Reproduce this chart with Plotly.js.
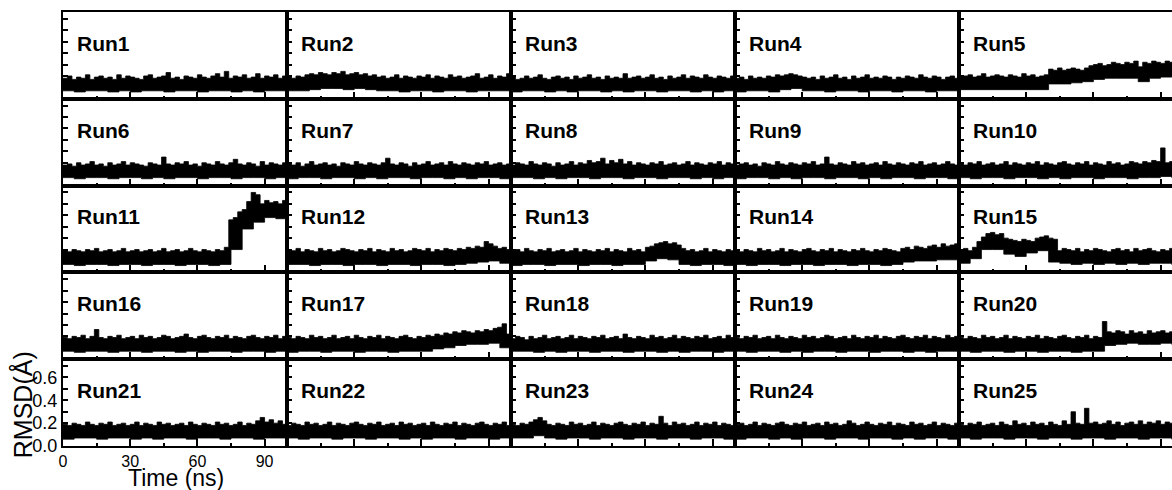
<!DOCTYPE html>
<html>
<head>
<meta charset="utf-8">
<script src="https://cdn.plot.ly/plotly-3.0.1.min.js"></script>
<style>
html,body{margin:0;padding:0;overflow:hidden;background:#fff;}
#chart{width:1200px;height:490px;}
</style>
</head>
<body>
<div id="chart"></div>
<script>
// ---- data (RMSD in Å, time in ns) ----
const timeHi = [0,2,4,6,8,10,12,14,16,18,20,22,24,26,28,30,32,34,36,38,40,42,44,46,48,50,52,54,56,58,60,62,64,66,68,70,72,74,76,78,80,82,84,86,88,90,92,94,96,98];
const timeLo = [0,5,10,15,20,25,30,35,40,45,50,55,60,65,70,75,80,85,90,95];
const timeEnd = 100;
const runNames = ["Run1","Run2","Run3","Run4","Run5","Run6","Run7","Run8","Run9","Run10","Run11","Run12","Run13","Run14","Run15","Run16","Run17","Run18","Run19","Run20","Run21","Run22","Run23","Run24","Run25"];
const xTickVals = [0,30,60,90];
const xMinorVals = [15,45,75];
const yTickVals = [0,0.2,0.4,0.6];
const yTickText = ["0.0","0.2","0.4","0.6"];
const yMinorVals = [0.1,0.3,0.5,0.7];

// upper envelope of each RMSD trace
const run1Hi = [.18,.20,.17,.19,.18,.21,.17,.19,.20,.18, .19,.17,.21,.18,.20,.19,.18,.17,.20,.21, .18,.19,.20,.23,.18,.19,.17,.20,.19,.18, .21,.19,.18,.20,.22,.19,.24,.18,.20,.19, .21,.18,.19,.22,.18,.20,.19,.21,.18,.20];
const run2Hi = [.19,.18,.20,.19,.21,.22,.21,.23,.22,.21, .23,.22,.24,.21,.22,.23,.21,.22,.20,.21, .19,.20,.18,.19,.21,.18,.20,.19,.18,.20, .19,.21,.18,.20,.19,.18,.21,.19,.20,.18, .19,.20,.22,.18,.19,.21,.18,.20,.19,.22];
const run3Hi = [.19,.17,.18,.20,.18,.19,.21,.18,.17,.19, .20,.18,.19,.17,.20,.18,.19,.21,.18,.19, .17,.20,.18,.19,.18,.22,.18,.19,.20,.18, .19,.21,.18,.19,.17,.20,.18,.19,.21,.18, .20,.19,.18,.21,.19,.18,.20,.19,.18,.20];
const run4Hi = [.18,.19,.17,.20,.18,.19,.18,.20,.19,.21, .20,.21,.22,.21,.20,.19,.18,.19,.17,.20, .18,.19,.21,.18,.19,.17,.20,.18,.19,.21, .18,.19,.18,.20,.19,.17,.19,.18,.20,.19, .18,.21,.19,.18,.20,.19,.17,.19,.20,.18];
const run5Hi = [.19,.20,.21,.19,.20,.22,.19,.20,.21,.20, .19,.21,.20,.19,.22,.20,.21,.19,.20,.21, .26,.25,.27,.25,.26,.27,.26,.25,.27,.29, .30,.31,.29,.30,.32,.31,.30,.32,.31,.33, .28,.32,.31,.33,.32,.31,.33,.32,.30,.33];
const run6Hi = [.18,.19,.17,.20,.18,.19,.21,.18,.19,.17, .20,.18,.19,.21,.18,.20,.19,.18,.17,.20, .19,.18,.25,.19,.18,.20,.19,.21,.18,.19, .17,.20,.19,.18,.21,.19,.18,.20,.23,.19, .18,.20,.19,.17,.21,.18,.20,.19,.18,.20];
const run7Hi = [.19,.18,.20,.17,.19,.21,.18,.19,.20,.18, .19,.17,.20,.19,.18,.21,.19,.18,.20,.19, .18,.20,.24,.19,.18,.20,.19,.17,.20,.18, .19,.21,.18,.19,.20,.18,.21,.19,.18,.20, .19,.18,.20,.19,.21,.18,.19,.20,.18,.19];
const run8Hi = [.18,.20,.19,.18,.21,.19,.18,.20,.19,.17, .20,.18,.19,.21,.18,.20,.19,.22,.20,.21, .24,.19,.22,.20,.23,.19,.21,.18,.20,.19, .18,.20,.19,.21,.18,.19,.20,.18,.19,.21, .18,.20,.19,.18,.20,.19,.21,.18,.20,.19];
const run9Hi = [.18,.19,.20,.18,.19,.17,.20,.19,.18,.21, .19,.18,.20,.19,.18,.20,.19,.21,.18,.19, .25,.19,.18,.20,.19,.18,.21,.19,.20,.18, .19,.20,.18,.21,.19,.18,.20,.19,.18,.20, .19,.21,.18,.19,.20,.18,.19,.21,.19,.18];
const run10Hi = [.19,.18,.20,.19,.21,.18,.19,.20,.18,.19, .21,.18,.20,.19,.18,.20,.19,.21,.18,.20, .19,.18,.20,.21,.19,.18,.20,.19,.21,.18, .20,.19,.18,.21,.19,.20,.18,.19,.21,.20, .19,.21,.20,.22,.21,.33,.20,.21,.22,.20];
const run11Hi = [.19,.18,.20,.19,.18,.20,.19,.21,.18,.19, .20,.18,.19,.21,.18,.19,.20,.18,.19,.20, .18,.19,.21,.18,.19,.20,.18,.19,.21,.19, .18,.20,.19,.18,.20,.19,.22,.46,.48,.53, .55,.62,.70,.68,.60,.63,.61,.62,.60,.63];
const run12Hi = [.20,.19,.21,.18,.20,.19,.18,.21,.19,.20, .18,.19,.21,.20,.19,.18,.20,.19,.21,.18, .20,.19,.18,.21,.19,.20,.18,.19,.21,.20, .19,.21,.18,.20,.19,.21,.20,.19,.21,.20, .22,.21,.23,.22,.27,.25,.23,.21,.22,.20];
const run13Hi = [.19,.20,.18,.21,.19,.18,.20,.19,.21,.18, .19,.20,.18,.19,.21,.18,.20,.19,.18,.20, .19,.21,.18,.20,.19,.18,.21,.19,.20,.18, .22,.23,.25,.26,.27,.25,.26,.24,.21,.19, .20,.18,.19,.21,.18,.20,.19,.18,.20,.19];
const run14Hi = [.19,.18,.20,.19,.18,.21,.19,.20,.18,.19, .21,.18,.20,.19,.18,.20,.21,.19,.18,.20, .19,.21,.18,.20,.19,.18,.20,.19,.21,.19, .18,.20,.19,.21,.20,.19,.18,.21,.22,.20, .23,.22,.21,.23,.24,.22,.25,.23,.24,.25];
const run15Hi = [.20,.21,.19,.22,.27,.31,.34,.35,.33,.34, .30,.29,.28,.27,.29,.28,.27,.30,.31,.32, .30,.29,.19,.21,.20,.19,.21,.18,.20,.19, .21,.20,.19,.18,.20,.21,.19,.20,.18,.21, .19,.20,.21,.19,.18,.20,.19,.21,.20,.19];
const run16Hi = [.19,.18,.20,.19,.21,.18,.20,.26,.19,.18, .20,.19,.21,.18,.19,.20,.18,.21,.19,.20, .18,.19,.21,.20,.18,.19,.20,.22,.19,.18, .20,.21,.19,.18,.20,.19,.21,.18,.20,.19, .18,.20,.21,.19,.18,.20,.19,.21,.18,.20];
const run17Hi = [.19,.18,.20,.19,.18,.21,.19,.20,.18,.19, .21,.18,.19,.20,.18,.21,.19,.18,.20,.19, .21,.18,.20,.19,.18,.20,.21,.19,.18,.20, .19,.21,.20,.22,.21,.23,.22,.24,.23,.25, .24,.23,.25,.24,.26,.25,.27,.28,.31,.22];
const run18Hi = [.18,.20,.19,.17,.20,.18,.19,.21,.18,.19, .20,.18,.19,.21,.18,.20,.19,.18,.20,.19, .21,.18,.19,.20,.18,.22,.19,.18,.20,.19, .18,.21,.19,.20,.18,.19,.21,.18,.20,.19, .18,.20,.19,.21,.18,.19,.20,.18,.21,.19];
const run19Hi = [.19,.18,.20,.19,.21,.18,.19,.20,.18,.21, .19,.18,.20,.19,.18,.21,.19,.20,.18,.19, .21,.20,.18,.19,.20,.18,.21,.19,.18,.20, .19,.21,.18,.20,.19,.18,.20,.21,.19,.18, .20,.19,.21,.18,.20,.19,.18,.21,.19,.20];
const run20Hi = [.19,.18,.20,.19,.18,.21,.19,.20,.18,.19, .21,.18,.20,.19,.18,.20,.19,.21,.18,.20, .19,.18,.20,.21,.19,.18,.20,.19,.21,.18, .20,.19,.33,.24,.23,.25,.24,.22,.25,.23, .24,.22,.25,.23,.24,.25,.23,.24,.22,.24];
const run21Hi = [.19,.18,.20,.19,.18,.21,.19,.18,.20,.19, .21,.18,.19,.20,.18,.19,.21,.18,.20,.19, .18,.21,.19,.20,.18,.19,.20,.18,.21,.19, .18,.20,.19,.18,.21,.19,.20,.18,.19,.21, .18,.20,.19,.22,.25,.21,.23,.20,.22,.19];
const run22Hi = [.18,.20,.19,.18,.21,.19,.20,.18,.19,.21, .18,.20,.19,.18,.20,.21,.19,.18,.20,.19, .21,.18,.19,.20,.18,.21,.19,.20,.18,.19, .20,.18,.21,.19,.18,.20,.19,.21,.18,.20, .19,.18,.20,.21,.19,.18,.20,.19,.21,.18];
const run23Hi = [.19,.18,.20,.19,.21,.23,.25,.22,.19,.18, .20,.19,.18,.21,.19,.20,.18,.19,.21,.18, .20,.19,.18,.20,.21,.19,.18,.20,.19,.21, .18,.20,.19,.26,.20,.18,.21,.19,.20,.18, .19,.21,.18,.20,.19,.21,.18,.20,.19,.18];
const run24Hi = [.19,.20,.18,.19,.21,.18,.20,.19,.18,.20, .21,.19,.18,.20,.19,.21,.18,.19,.20,.18, .21,.19,.20,.18,.19,.22,.20,.18,.19,.21, .19,.18,.20,.19,.21,.18,.20,.19,.18,.21, .19,.20,.18,.19,.21,.18,.20,.19,.18,.20];
const run25Hi = [.19,.18,.20,.19,.21,.18,.19,.20,.18,.21, .19,.18,.22,.19,.20,.18,.21,.19,.20,.18, .21,.19,.18,.22,.19,.30,.20,.19,.33,.20, .21,.19,.20,.22,.19,.21,.18,.20,.21,.19, .22,.19,.21,.20,.22,.19,.21,.20,.19,.21];

// lower envelope of each RMSD trace
const run1Lo = [.07,.06,.07,.07,.06,.07,.06,.07,.07,.06,.07,.07,.06,.07,.07,.06,.07,.06,.07,.07];
const run2Lo = [.07,.07,.08,.09,.09,.08,.09,.08,.07,.07,.06,.07,.07,.06,.07,.07,.06,.07,.07,.07];
const run3Lo = [.06,.07,.07,.06,.07,.06,.07,.07,.06,.07,.06,.07,.07,.06,.07,.07,.06,.07,.06,.07];
const run4Lo = [.06,.07,.07,.06,.08,.09,.07,.07,.06,.07,.07,.06,.07,.07,.06,.07,.07,.06,.07,.07];
const run5Lo = [.08,.08,.08,.08,.08,.08,.08,.08,.13,.13,.14,.15,.17,.18,.18,.18,.15,.18,.19,.20];
const run6Lo = [.07,.06,.07,.07,.06,.07,.07,.06,.07,.06,.07,.07,.06,.07,.07,.06,.07,.07,.06,.07];
const run7Lo = [.06,.07,.07,.06,.07,.07,.06,.07,.06,.07,.07,.06,.07,.07,.06,.07,.06,.07,.07,.06];
const run8Lo = [.07,.07,.06,.07,.06,.07,.07,.06,.07,.07,.06,.07,.07,.06,.07,.07,.06,.07,.06,.07];
const run9Lo = [.06,.07,.07,.06,.07,.06,.07,.07,.06,.07,.07,.06,.07,.06,.07,.07,.06,.07,.07,.06];
const run10Lo = [.07,.06,.07,.07,.06,.07,.07,.06,.07,.06,.07,.07,.06,.07,.07,.06,.07,.07,.08,.07];
const run11Lo = [.07,.06,.07,.07,.06,.07,.07,.06,.07,.07,.06,.07,.07,.06,.07,.20,.38,.44,.48,.47];
const run12Lo = [.07,.07,.06,.07,.07,.06,.07,.07,.06,.07,.07,.06,.07,.07,.06,.07,.08,.09,.10,.08];
const run13Lo = [.06,.07,.07,.06,.07,.07,.06,.07,.07,.06,.07,.07,.10,.12,.11,.07,.06,.07,.07,.06];
const run14Lo = [.07,.06,.07,.07,.06,.07,.07,.06,.07,.07,.06,.07,.07,.06,.07,.09,.10,.10,.11,.11];
const run15Lo = [.08,.12,.20,.20,.16,.14,.17,.19,.09,.08,.07,.08,.07,.08,.07,.08,.07,.08,.08,.07];
const run16Lo = [.07,.06,.07,.07,.06,.07,.07,.06,.07,.07,.06,.07,.06,.07,.07,.06,.07,.07,.06,.07];
const run17Lo = [.06,.07,.07,.06,.07,.07,.06,.07,.07,.06,.07,.07,.07,.09,.10,.12,.13,.13,.14,.10];
const run18Lo = [.07,.07,.06,.07,.06,.07,.07,.06,.07,.07,.06,.07,.07,.06,.07,.06,.07,.07,.06,.07];
const run19Lo = [.07,.06,.07,.07,.06,.07,.06,.07,.07,.06,.07,.07,.06,.07,.07,.06,.07,.06,.07,.07];
const run20Lo = [.07,.06,.07,.07,.06,.07,.07,.06,.07,.07,.06,.07,.07,.12,.13,.14,.13,.13,.14,.13];
const run21Lo = [.06,.07,.07,.06,.07,.07,.06,.07,.06,.07,.07,.06,.07,.07,.06,.07,.07,.06,.07,.07];
const run22Lo = [.07,.06,.07,.07,.06,.07,.07,.06,.07,.07,.06,.07,.06,.07,.07,.06,.07,.07,.06,.07];
const run23Lo = [.07,.07,.09,.07,.06,.07,.07,.06,.07,.07,.06,.07,.07,.06,.07,.07,.06,.07,.07,.06];
const run24Lo = [.06,.07,.07,.06,.07,.06,.07,.07,.06,.07,.07,.06,.07,.07,.06,.07,.06,.07,.07,.06];
const run25Lo = [.07,.06,.07,.07,.06,.07,.07,.06,.07,.07,.06,.07,.07,.06,.07,.07,.06,.07,.07,.06];

const hiList = [run1Hi,run2Hi,run3Hi,run4Hi,run5Hi,run6Hi,run7Hi,run8Hi,run9Hi,run10Hi,run11Hi,run12Hi,run13Hi,run14Hi,run15Hi,run16Hi,run17Hi,run18Hi,run19Hi,run20Hi,run21Hi,run22Hi,run23Hi,run24Hi,run25Hi];
const loList = [run1Lo,run2Lo,run3Lo,run4Lo,run5Lo,run6Lo,run7Lo,run8Lo,run9Lo,run10Lo,run11Lo,run12Lo,run13Lo,run14Lo,run15Lo,run16Lo,run17Lo,run18Lo,run19Lo,run20Lo,run21Lo,run22Lo,run23Lo,run24Lo,run25Lo];

// ---- build figure ----
const FONT = "Liberation Sans, Arial, sans-serif";
const traces = [];
const annotations = [];
const layout = {
  width: 1200, height: 490,
  margin: {l: 63, r: 17, t: 12, b: 44},
  paper_bgcolor: "#fff", plot_bgcolor: "#fff",
  showlegend: false,
  font: {family: FONT, color: "#000"}
};

for (let i = 0; i < 25; i++) {
  const n = i + 1;
  const s = n === 1 ? "" : String(n);
  const r = Math.floor(i / 5), c = i % 5;
  const hi = hiList[i], lo = loList[i];
  const loX = timeLo.concat([timeEnd]);
  const loY = lo.concat([lo[lo.length - 1]]);
  const hiX = timeHi.concat([timeEnd]);
  const hiY = hi.concat([hi[hi.length - 1]]);
  traces.push({x: loX, y: loY, xaxis: "x" + s, yaxis: "y" + s, type: "scatter", mode: "lines",
    line: {shape: "hv", color: "#000", width: 0.8}, hoverinfo: "skip"});
  traces.push({x: hiX, y: hiY, xaxis: "x" + s, yaxis: "y" + s, type: "scatter", mode: "lines",
    line: {shape: "hv", color: "#000", width: 0.8}, fill: "tonexty", fillcolor: "#000", hoverinfo: "skip"});

  const labelled = (n === 21);
  layout["xaxis" + s] = {
    domain: [c / 5, (c + 1) / 5], range: [0, timeEnd], anchor: "y" + s,
    showline: true, mirror: true, linecolor: "#000", linewidth: 2,
    showgrid: false, zeroline: false,
    ticks: "inside", ticklen: 7, tickwidth: 2, tickcolor: "#000",
    tickmode: "array", tickvals: xTickVals,
    minor: {tickmode: "array", tickvals: xMinorVals, ticks: "inside", ticklen: 3, tickwidth: 2, tickcolor: "#000", showgrid: false},
    showticklabels: labelled, tickfont: {family: FONT, size: 16, color: "#000"},
    fixedrange: true
  };
  layout["yaxis" + s] = {
    domain: [1 - (r + 1) / 5, 1 - r / 5], range: [0, 0.76], anchor: "x" + s,
    showline: true, mirror: true, linecolor: "#000", linewidth: 2,
    showgrid: false, zeroline: false,
    ticks: "inside", ticklen: 5, tickwidth: 2, tickcolor: "#000",
    tickmode: "array", tickvals: yTickVals, ticktext: yTickText,
    minor: {tickmode: "array", tickvals: yMinorVals, ticks: "inside", ticklen: 5, tickwidth: 2, tickcolor: "#000", showgrid: false},
    showticklabels: labelled, tickfont: {family: FONT, size: 18, color: "#000"},
    fixedrange: true
  };
  annotations.push({
    text: runNames[i], xref: "x" + s + " domain", yref: "y" + s + " domain",
    x: 0.055, y: 0.64, xanchor: "left", yanchor: "middle", showarrow: false,
    font: {family: FONT, size: 21, color: "#000", weight: "bold"}
  });
}

annotations.push({
  text: "RMSD(Å)", xref: "paper", yref: "paper", x: -0.0366, y: 0.094,
  xanchor: "center", yanchor: "middle", textangle: -90, showarrow: false,
  font: {family: FONT, size: 25, color: "#000"}
});
annotations.push({
  text: "Time (ns)", xref: "paper", yref: "paper", x: 0.1009, y: -0.0737,
  xanchor: "center", yanchor: "middle", showarrow: false,
  font: {family: FONT, size: 23, color: "#000"}
});
layout.annotations = annotations;

Plotly.newPlot("chart", traces, layout, {displayModeBar: false, staticPlot: true});
</script>
</body>
</html>
